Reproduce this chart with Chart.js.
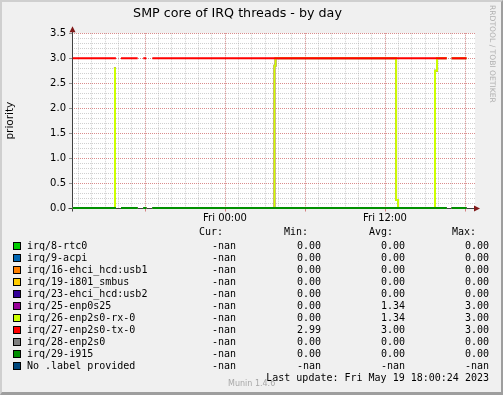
<!DOCTYPE html>
<html>
<head>
<meta charset="utf-8">
<title>SMP core of IRQ threads - by day</title>
<script src="https://cdn.jsdelivr.net/npm/chart.js"></script>
<style>
  html, body { margin: 0; padding: 0; }
  body { width: 503px; height: 395px; overflow: hidden; position: relative; }
  #frame {
    position: absolute; left: 0; top: 0; width: 503px; height: 395px; box-sizing: border-box;
    background: #F0F0F0;
    border-left: 2px solid #CFCFCF; border-top: 2px solid #CFCFCF;
    border-right: 2px solid #9E9E9E; border-bottom: 3px solid #9E9E9E;
  }
  #chart { position: absolute; left: 0; top: 0; }
  .mono { position: absolute; font-family: 'DejaVu Sans Mono', monospace; font-size: 10px; line-height: 12px; color: #000; white-space: pre; }
  .box { position: absolute; width: 8px; height: 8px; box-sizing: border-box; border: 1px solid #000; }
  #rrd { position: absolute; left: 488px; top: 5px; writing-mode: vertical-rl; font-family: 'DejaVu Sans', sans-serif; font-size: 7.6px; color: #B0B0B0; white-space: nowrap; }
  #munin { position: absolute; left: 228px; top: 379px; font-family: 'DejaVu Sans', sans-serif; font-size: 8px; color: #A8A8A8; white-space: nowrap; }
</style>
</head>
<body>
<div id="frame"></div>
<canvas id="chart" width="503" height="395"></canvas>
<div id="rrd">RRDTOOL / TOBI OETIKER</div>
<div id="legend"></div>
<div id="munin">Munin 1.4.6</div>
<script>
// time axis in hours, 0 = Fri 00:00; each value holds until the next time
const hours = [-11.42, -8.33, -8.25, -8.18, -8.0, -7.80, -6.55, -6.35, -6.13, -5.90, -5.70, -5.45,
               3.71, 3.79, 12.83, 12.98, 15.75, 15.90, 16.63, 16.80, 17.00, 18.11];
const txValues   = [3, 3, 3, 3, null, 3, 3, null, 3, 3, null, 3, 3, 3, 3, 3, 3, 3, 3, null, 3, 3];
const rxValues   = [null, 2.8, 0, 0, null, 0, 0, null, 0, 0, null, 0, 2.85, 3, 0.16, 0, 2.75, 3, 3, null, 3, 3];
const idleValues = [0, 0, 0, 0, null, 0, 0, null, 0, 0, null, 0, 0, 0, 0, 0, 0, 0, 0, null, 0, 0];
const noLabelValues = [];

const xTickHours = [0, 12];
const xTickLabels = ['Fri 00:00', 'Fri 12:00'];
const xMajorHours = [-6, 0, 6, 12, 18];
const xMinorHours = [-11, -10, -9, -8, -7, -6, -5, -4, -3, -2, -1, 0, 1, 2, 3, 4, 5, 6, 7, 8, 9, 10, 11, 12, 13, 14, 15, 16, 17, 18];

const seriesNames = ['irq/8-rtc0', 'irq/9-acpi', 'irq/16-ehci_hcd:usb1', 'irq/19-i801_smbus',
  'irq/23-ehci_hcd:usb2', 'irq/25-enp0s25', 'irq/26-enp2s0-rx-0', 'irq/27-enp2s0-tx-0',
  'irq/28-enp2s0', 'irq/29-i915', 'No .label provided'];
const seriesColors = ['#00CC00', '#0066B3', '#FF8000', '#FFCC00', '#330099', '#990099',
  '#CCFF00', '#FF0000', '#808080', '#008F00', '#00487D'];
const seriesValues = [idleValues, idleValues, idleValues, idleValues, idleValues, rxValues,
  rxValues, txValues, idleValues, idleValues, noLabelValues];

const curValues = [NaN, NaN, NaN, NaN, NaN, NaN, NaN, NaN, NaN, NaN, NaN];
const minValues = [0, 0, 0, 0, 0, 0, 0, 2.99, 0, 0, NaN];
const avgValues = [0, 0, 0, 0, 0, 1.34, 1.34, 3.00, 0, 0, NaN];
const maxValues = [0, 0, 0, 0, 0, 3.00, 3.00, 3.00, 0, 0, NaN];

const font = 'DejaVu Sans';
const minorGrid = 'rgba(150,150,150,0.45)';
const majorGrid = 'rgba(230,60,60,0.45)';

// legend table, rrdtool style
const legend = document.getElementById('legend');
function put(text, top, left, right) {
  const s = document.createElement('div');
  s.className = 'mono';
  s.textContent = text;
  s.style.top = top + 'px';
  if (left != null) s.style.left = left + 'px';
  else { s.style.right = (503 - right) + 'px'; s.style.textAlign = 'right'; }
  legend.appendChild(s);
}
const fmt = v => isNaN(v) ? '-nan' : v.toFixed(2);
put('Cur:', 226, null, 223);
put('Min:', 226, null, 308);
put('Avg:', 226, null, 393);
put('Max:', 226, null, 476);
seriesNames.forEach((name, i) => {
  const top = 240 + i * 12;
  const b = document.createElement('div');
  b.className = 'box';
  b.style.left = '13px';
  b.style.top = (top + 2) + 'px';
  b.style.background = seriesColors[i];
  legend.appendChild(b);
  put(name, top, 27, null);
  put(fmt(curValues[i]), top, null, 236);
  put(fmt(minValues[i]), top, null, 321);
  put(fmt(avgValues[i]), top, null, 405);
  put(fmt(maxValues[i]), top, null, 489);
});
put('Last update: Fri May 19 18:00:24 2023', 372, null, 489);

const datasets = seriesNames.map((name, i) => ({
  label: name,
  data: seriesValues[i].map((v, k) => ({ x: hours[k], y: v })),
  borderColor: seriesColors[i],
  backgroundColor: seriesColors[i],
  borderWidth: 2,
  pointRadius: 0,
  stepped: 'before',
  spanGaps: false,
  fill: false,
  clip: 3,
  order: seriesNames.length - 1 - i
}));

const muninFrame = {
  id: 'muninFrame',
  beforeDraw(chart) {
    const a = chart.chartArea, c = chart.ctx;
    c.save();
    c.fillStyle = '#FFFFFF';
    c.fillRect(a.left, a.top, a.right - a.left, a.bottom - a.top);
    c.restore();
  },
  beforeDatasetsDraw(chart) {
    const a = chart.chartArea, c = chart.ctx;
    const x0 = Math.round(a.left) + 0.5, y0 = Math.round(a.bottom) + 0.5;
    c.save();
    c.strokeStyle = '#404040';
    c.lineWidth = 1;
    c.beginPath();
    c.moveTo(x0, y0 + 3); c.lineTo(x0, a.top - 4);
    c.moveTo(x0 - 4, y0); c.lineTo(a.right + 2, y0);
    c.stroke();
    // small tick marks under the major time grid
    c.strokeStyle = 'rgba(200,80,80,0.7)';
    c.beginPath();
    const xs = chart.scales.xMajor;
    xMajorHours.forEach(h => {
      const px = Math.round(xs.getPixelForValue(h)) + 0.5;
      c.moveTo(px, y0); c.lineTo(px, y0 + 3);
    });
    c.stroke();
    c.fillStyle = '#801818';
    c.beginPath();
    c.moveTo(x0, a.top - 7); c.lineTo(x0 - 3, a.top - 1); c.lineTo(x0 + 3, a.top - 1);
    c.closePath(); c.fill();
    c.beginPath();
    c.moveTo(a.right + 5, y0); c.lineTo(a.right - 1, y0 - 3); c.lineTo(a.right - 1, y0 + 3);
    c.closePath(); c.fill();
    c.restore();
  }
};

const hiddenScale = (axis, ticksList, color, extra) => Object.assign({
  type: 'linear',
  display: true,
  ticks: { display: false },
  border: { display: false, dash: [1, 1] },
  grid: { color: color, drawTicks: false, lineWidth: 1 },
  afterBuildTicks: ticksList ? s => { s.ticks = ticksList.map(v => ({ value: v })); } : undefined,
  afterFit: s => { if (axis === 'x') s.height = 0; else s.width = 0; }
}, extra);

new Chart(document.getElementById('chart'), {
  type: 'line',
  data: { datasets: datasets },
  plugins: [muninFrame],
  options: {
    responsive: false,
    animation: false,
    devicePixelRatio: 1,
    layout: { padding: { top: 0, right: 28, bottom: 0, left: 0 } },
    plugins: {
      legend: { display: false },
      tooltip: { enabled: false },
      title: {
        display: true,
        text: 'SMP core of IRQ threads - by day',
        color: '#000',
        font: { family: font, size: 12.7, weight: 'normal' },
        padding: { top: 6, bottom: 12 }
      }
    },
    scales: {
      xMinor: hiddenScale('x', xMinorHours, minorGrid, { position: 'bottom', min: -11.475, max: 18.75 }),
      yMinor: hiddenScale('y', null, minorGrid, { position: 'left', min: 0, max: 3.5, ticks: { display: false, stepSize: 0.1 } }),
      xMajor: hiddenScale('x', xMajorHours, majorGrid, { position: 'bottom', min: -11.475, max: 18.75 }),
      x: {
        type: 'linear',
        position: 'bottom',
        min: -11.475,
        max: 18.75,
        border: { display: false },
        grid: { display: false, drawTicks: false },
        afterBuildTicks: s => { s.ticks = xTickHours.map(v => ({ value: v })); },
        afterFit: s => { s.height = 187; },
        ticks: {
          color: '#000',
          font: { family: font, size: 10 },
          padding: 4,
          maxRotation: 0,
          callback: v => xTickLabels[xTickHours.indexOf(v)]
        }
      },
      y: {
        type: 'linear',
        position: 'left',
        min: 0,
        max: 3.5,
        border: { display: false, dash: [1, 1] },
        grid: { color: majorGrid, drawTicks: true, tickLength: 3, tickColor: '#909090', tickBorderDash: [] },
        afterFit: s => { s.width = 72; },
        ticks: {
          stepSize: 0.5,
          color: '#000',
          font: { family: font, size: 10 },
          padding: 3,
          callback: v => v.toFixed(1)
        },
        title: {
          display: true,
          text: 'priority',
          color: '#000',
          font: { family: font, size: 10.5 },
          padding: { top: 4, bottom: 0 }
        }
      }
    }
  }
});
</script>
</body>
</html>
